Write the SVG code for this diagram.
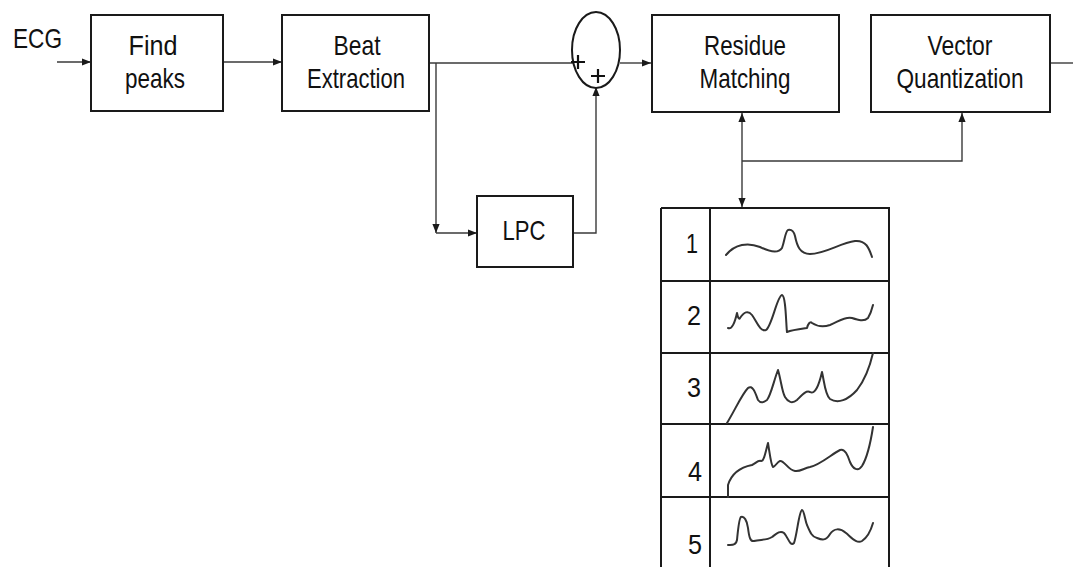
<svg xmlns="http://www.w3.org/2000/svg" width="1073" height="567" viewBox="0 0 1073 567">
<style>
.box{fill:#fff;stroke:#1a1a1a;stroke-width:2}
.lbl{font-family:"Liberation Sans",Arial,sans-serif;font-size:28px;fill:#111;text-anchor:middle}
.dig{font-family:"Liberation Sans",Arial,sans-serif;font-size:28px;fill:#111;text-anchor:middle}
.ln{fill:none;stroke:#3a3a3a;stroke-width:1.4}
.wave{fill:none;stroke:#333;stroke-width:2;stroke-linecap:round;stroke-linejoin:round}
</style>
<defs>
<marker id="ah" viewBox="0 0 10 10" refX="10" refY="5" markerWidth="9" markerHeight="9" markerUnits="userSpaceOnUse" orient="auto-start-reverse">
<path d="M0,1 L10,5 L0,9 z" fill="#1a1a1a"/>
</marker>
</defs>
<rect width="1073" height="567" fill="#fff"/>
<g id="connectors">
<line class="ln" x1="57" y1="62" x2="91" y2="62" marker-end="url(#ah)"/>
<line class="ln" x1="223" y1="62" x2="282" y2="62" marker-end="url(#ah)"/>
<line class="ln" x1="429" y1="63" x2="573" y2="63"/>
<polyline class="ln" points="436,63 436,233" marker-end="url(#ah)"/>
<line class="ln" x1="436" y1="233" x2="477" y2="233" marker-end="url(#ah)"/>
<polyline class="ln" points="573,233 596,233 596,87" marker-end="url(#ah)"/>
<line class="ln" x1="620" y1="63" x2="651" y2="63" marker-end="url(#ah)"/>
<line class="ln" x1="1050" y1="63" x2="1073" y2="63"/>
<line class="ln" x1="742" y1="113" x2="742" y2="207" marker-start="url(#ah)" marker-end="url(#ah)"/>
<polyline class="ln" points="742,161 962,161 962,113" marker-end="url(#ah)"/>
</g>
<g id="ecg-label"><text class="lbl" x="37.5" y="48" textLength="49" lengthAdjust="spacingAndGlyphs">ECG</text></g>
<g id="find-peaks">
<rect class="box" x="91" y="15" width="132" height="96"/>
<text class="lbl" x="153" y="55" textLength="49" lengthAdjust="spacingAndGlyphs">Find</text>
<text class="lbl" x="155" y="88" textLength="60" lengthAdjust="spacingAndGlyphs">peaks</text>
</g>
<g id="beat-extraction">
<rect class="box" x="282" y="15" width="147" height="96"/>
<text class="lbl" x="357" y="55" textLength="47" lengthAdjust="spacingAndGlyphs">Beat</text>
<text class="lbl" x="356" y="88" textLength="98" lengthAdjust="spacingAndGlyphs">Extraction</text>
</g>
<g id="sum">
<ellipse cx="596" cy="50" rx="24" ry="38" fill="#fff" stroke="#1a1a1a" stroke-width="2"/>
<path d="M571,62 h14 M578,55 v14 M591,76 h14 M598,69 v14" stroke="#111" stroke-width="2.2" fill="none"/>
</g>
<g id="lpc">
<rect class="box" x="477" y="196" width="96" height="71"/>
<text class="lbl" x="524" y="240" textLength="43" lengthAdjust="spacingAndGlyphs">LPC</text>
</g>
<g id="residue-matching">
<rect class="box" x="652" y="15" width="187" height="97"/>
<text class="lbl" x="745" y="55" textLength="82" lengthAdjust="spacingAndGlyphs">Residue</text>
<text class="lbl" x="745" y="88" textLength="91" lengthAdjust="spacingAndGlyphs">Matching</text>
</g>
<g id="vector-quantization">
<rect class="box" x="871" y="15" width="179" height="97"/>
<text class="lbl" x="960" y="55" textLength="65" lengthAdjust="spacingAndGlyphs">Vector</text>
<text class="lbl" x="960" y="88" textLength="127" lengthAdjust="spacingAndGlyphs">Quantization</text>
</g>
<g id="codebook">
<path d="M661,208 H889 V568 M661,208 V568 M710,208 V568 M661,281 H889 M661,353 H889 M661,424 H889 M661,497 H889" fill="none" stroke="#1a1a1a" stroke-width="2"/>
<text class="dig" x="692" y="253" textLength="12" lengthAdjust="spacingAndGlyphs">1</text>
<text class="dig" x="694" y="325" textLength="14" lengthAdjust="spacingAndGlyphs">2</text>
<text class="dig" x="694" y="397" textLength="14" lengthAdjust="spacingAndGlyphs">3</text>
<text class="dig" x="695" y="481" textLength="14" lengthAdjust="spacingAndGlyphs">4</text>
<text class="dig" x="695" y="554" textLength="14" lengthAdjust="spacingAndGlyphs">5</text>
<path class="wave" d="M726,255 C735,244 748,242 760,247 C770,252 778,254 782,248 C785,240 785,232 788,230 C792,229 794,232 795,236 C797,246 800,254 810,254 C825,254 840,243 855,241 C866,240 869,248 872,257"/>
<path class="wave" d="M728,328 C732,330 735,322 737,313 C738,318 739,320 740,318 C744,312 748,310 752,315 C757,322 760,332 766,330 C772,326 777,296 782,295 C786,296 786,325 787,332 C792,330 800,329 807,328 C808,324 810,321 812,323 C818,327 824,327 830,325 C838,322 845,316 852,318 C858,320 864,322 868,318 C871,313 872,309 873,305"/>
<path class="wave" d="M727,423 C735,410 742,394 748,388 C753,384 756,395 758,400 C761,404 764,402 767,400 C771,395 774,380 778,370 C781,380 782,392 785,397 C788,402 792,404 797,400 C802,395 806,390 810,392 C815,395 819,385 822,372 C824,380 825,395 830,399 C838,404 848,400 857,390 C864,381 870,366 873,353"/>
<path class="wave" d="M728,497 V485 C732,472 742,467 752,465 C756,463 758,460 761,461 C764,462 766,450 768,443 C770,455 771,465 773,467 C776,466 777,462 780,461 C784,460 788,470 795,471 C800,472 804,468 810,467 C820,465 832,454 840,450 C845,448 848,456 850,462 C853,469 858,472 862,466 C867,458 871,440 873,427"/>
<path class="wave" d="M728,545 C731,545 736,546 737,540 C738,530 739,518 741,517 C744,516 747,520 748,528 C749,536 750,542 754,541 C760,539 766,541 772,537 C776,534 780,530 784,533 C788,537 790,547 794,543 C797,535 799,511 802,510 C804,510 805,520 807,525 C810,532 812,537 817,538 C822,540 826,541 830,534 C834,528 840,528 846,533 C852,538 857,544 862,541 C868,537 871,530 873,523"/>
</g>
</svg>
